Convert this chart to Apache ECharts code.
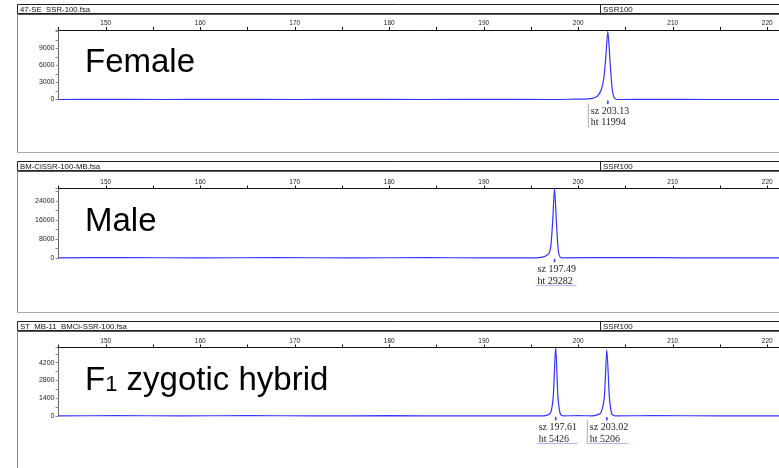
<!DOCTYPE html>
<html>
<head>
<meta charset="utf-8">
<script src="https://cdn.jsdelivr.net/npm/echarts@6/dist/echarts.min.js"></script>
<style>
html,body{margin:0;padding:0;background:#fff;}
#chart{width:779px;height:468px;}
</style>
</head>
<body>
<div id="chart"></div>
<script>
// electropherogram traces, size (bp) vs height (rfu)
var fileNames = ['47-SE_SSR-100.fsa', 'BM-CiSSR-100-MB.fsa', 'ST_MB-11_BMCi-SSR-100.fsa'];
var panelNames = ['Female', 'Male', 'F1 zygotic hybrid'];
var markerName = 'SSR100';

var sizeTicks = [150, 160, 170, 180, 190, 200, 210, 220];
var femaleTicks = [0, 3000, 6000, 9000];
var maleTicks = [0, 8000, 16000, 24000];
var hybridTicks = [0, 1400, 2800, 4200];

var femaleSize = [145, 150, 156, 162, 170, 176, 184, 190, 197.5, 199.5, 201, 201.5, 201.9, 202.2, 202.45, 202.7, 202.9, 203.13, 203.35, 203.55, 203.75, 204, 204.4, 208, 214, 221.24];
var femaleHt   = [0, 25, 0, 20, 0, 15, 0, 20, 0, 60, 120, 200, 450, 950, 1800, 3700, 7200, 11994, 7000, 2500, 500, 50, 0, 30, 0, 0];

var maleSize = [145, 152, 160, 168, 176, 184, 190, 195.5, 196.2, 196.6, 196.9, 197.1, 197.3, 197.49, 197.7, 197.9, 198.1, 198.4, 204, 212, 221.24];
var maleHt   = [0, 60, 0, 50, 0, 60, 0, 0, 300, 900, 1800, 5000, 16000, 29282, 14000, 2500, 200, 0, 80, 0, 0];

var hybridSize = [145, 151, 158, 165, 172, 180, 188, 196.3, 196.8, 197.1, 197.35, 197.61, 197.85, 198.1, 198.4, 200, 201.5, 202, 202.4, 202.75, 203.02, 203.3, 203.55, 203.9, 208, 215, 221.24];
var hybridHt   = [0, 20, 0, 25, 0, 15, 0, 0, 80, 300, 1500, 5426, 1500, 150, 0, 20, 0, 80, 250, 1400, 5206, 1400, 150, 0, 20, 0, 0];

var femalePeakSz = [203.13], femalePeakHt = [11994];
var malePeakSz = [197.49], malePeakHt = [29282];
var hybridPeakSz = [197.61, 203.02], hybridPeakHt = [5426, 5206];

(function(){
    var chart = echarts.init(document.getElementById('chart'), null, {renderer: 'canvas'});
    var blue = '#3434ff';
    var tops = [30, 188.5, 347.5];
    var heights = [69.5, 69.3, 68.4];
    var yMax = [12230, 29220, 5400];
    var yStep = [1500, 4000, 700];
    var headTop = [4.5, 161.5, 321.5];
    var panelBottom = [152.5, 312.5, 480];
    var yTicks = [femaleTicks, maleTicks, hybridTicks];
    var traces = [[femaleSize, femaleHt], [maleSize, maleHt], [hybridSize, hybridHt]];
    var peaks = [[femalePeakSz, femalePeakHt], [malePeakSz, malePeakHt], [hybridPeakSz, hybridPeakHt]];
    // which label boxes show a left rule / an underline
    var boxLeft = [[true], [false], [false, true]];
    var boxUnder = [[false], [true], [true, true]];

    function pairs(xs, ys){
        return xs.map(function(x, i){ return [x, ys[i]]; });
    }

    var grids = [], xAxes = [], yAxes = [], series = [];
    for (var i = 0; i < 3; i++) {
        grids.push({left: 58.5, right: 0, top: tops[i], height: heights[i], containLabel: false, outerBoundsMode: 'none'});
        xAxes.push({
            type: 'value', gridIndex: i, position: 'top',
            min: 145, max: 221.24, interval: 5,
            axisLine: {show: true, onZero: false, lineStyle: {color: '#111', width: 1}},
            axisTick: {show: true, length: 3, lineStyle: {color: '#111'}},
            axisLabel: {
                show: true, margin: 3, fontSize: 6.5, color: '#222', fontFamily: 'Liberation Sans',
                showMaxLabel: false,
                formatter: function(v){ return sizeTicks.indexOf(v) >= 0 ? String(v) : ''; }
            },
            splitLine: {show: false}
        });
        yAxes.push({
            type: 'value', gridIndex: i,
            min: 0, max: yMax[i], interval: yStep[i],
            axisLine: {show: true, onZero: false, lineStyle: {color: '#666', width: 1}},
            axisTick: {show: true, length: 3, lineStyle: {color: '#888'}},
            axisLabel: {
                show: true, margin: 4, fontSize: 7, color: '#222', fontFamily: 'Liberation Sans',
                formatter: (function(list){
                    return function(v){ return list.indexOf(v) >= 0 ? String(v) : ''; };
                })(yTicks[i])
            },
            splitLine: {show: false}
        });
        series.push({
            type: 'line', xAxisIndex: i, yAxisIndex: i,
            data: pairs(traces[i][0], traces[i][1]),
            showSymbol: false, smooth: 0.25, clip: false,
            lineStyle: {color: blue, width: 1.2},
            silent: true
        });
    }

    chart.setOption({
        animation: false,
        backgroundColor: '#fff',
        grid: grids, xAxis: xAxes, yAxis: yAxes, series: series
    });

    var g = [];
    for (var p = 0; p < 3; p++) {
        var t = headTop[p];
        // header bar
        g.push({type: 'rect', shape: {x: 17.5, y: t, width: 770, height: 9},
            style: {fill: '#fff', stroke: '#222', lineWidth: 1}, silent: true});
        g.push({type: 'line', shape: {x1: 17, y1: t + 9.5, x2: 779, y2: t + 9.5},
            style: {stroke: '#222', lineWidth: 1.5}, silent: true});
        g.push({type: 'line', shape: {x1: 600.5, y1: t, x2: 600.5, y2: t + 9},
            style: {stroke: '#222', lineWidth: 1}, silent: true});
        g.push({type: 'text', x: 20, y: t + 5, silent: true,
            style: {text: fileNames[p], font: '7.8px "Liberation Sans"', fill: '#111', verticalAlign: 'middle'}});
        g.push({type: 'text', x: 603, y: t + 5.2, silent: true,
            style: {text: markerName, font: '8px "Liberation Sans"', fill: '#111', verticalAlign: 'middle'}});
        // panel frame
        g.push({type: 'line', shape: {x1: 17.5, y1: t + 9, x2: 17.5, y2: panelBottom[p]},
            style: {stroke: '#888', lineWidth: 1}, silent: true});
        if (p < 2) {
            g.push({type: 'line', shape: {x1: 17, y1: panelBottom[p], x2: 779, y2: panelBottom[p]},
                style: {stroke: '#aaa', lineWidth: 1}, silent: true});
        }
        // panel name
        var nameText = p === 2 ? '{a|F}{b|1}{a| zygotic hybrid}' : '{a|' + panelNames[p] + '}';
        g.push({type: 'text', x: 85, y: tops[p] + 33, silent: true,
            style: {
                text: nameText, verticalAlign: 'middle', fill: '#000',
                rich: {
                    a: {fontSize: 33, fontFamily: 'Liberation Sans', lineHeight: 36, fill: '#000'},
                    b: {fontSize: 22, fontFamily: 'Liberation Sans', lineHeight: 36, fill: '#000', verticalAlign: 'bottom', padding: [0, 0, 3, 0]}
                }
            }});
        // peak labels
        var sz = peaks[p][0], ht = peaks[p][1];
        for (var k = 0; k < sz.length; k++) {
            var pt = chart.convertToPixel({gridIndex: p}, [sz[k], 0]);
            var px = pt[0], py = pt[1];
            g.push({type: 'line', shape: {x1: px, y1: py + 1, x2: px, y2: py + 4.5},
                style: {stroke: blue, lineWidth: 1.5}, silent: true});
            g.push({type: 'text', x: px - 17, y: py + 6, silent: true,
                style: {text: 'sz ' + sz[k].toFixed(2) + '\nht ' + ht[k],
                    font: '10px "Liberation Serif"', lineHeight: 11.5, fill: '#222', verticalAlign: 'top'}});
            if (boxLeft[p][k]) {
                g.push({type: 'line', shape: {x1: px - 19.5, y1: py + 4, x2: px - 19.5, y2: py + 28},
                    style: {stroke: '#aaa', lineWidth: 1}, silent: true});
            }
            if (boxUnder[p][k]) {
                g.push({type: 'line', shape: {x1: px - 19, y1: py + 27.5, x2: px + 22, y2: py + 27.5},
                    style: {stroke: '#aab2ee', lineWidth: 1}, silent: true});
            }
        }
    }
    chart.setOption({graphic: g});
})();
</script>
</body>
</html>
